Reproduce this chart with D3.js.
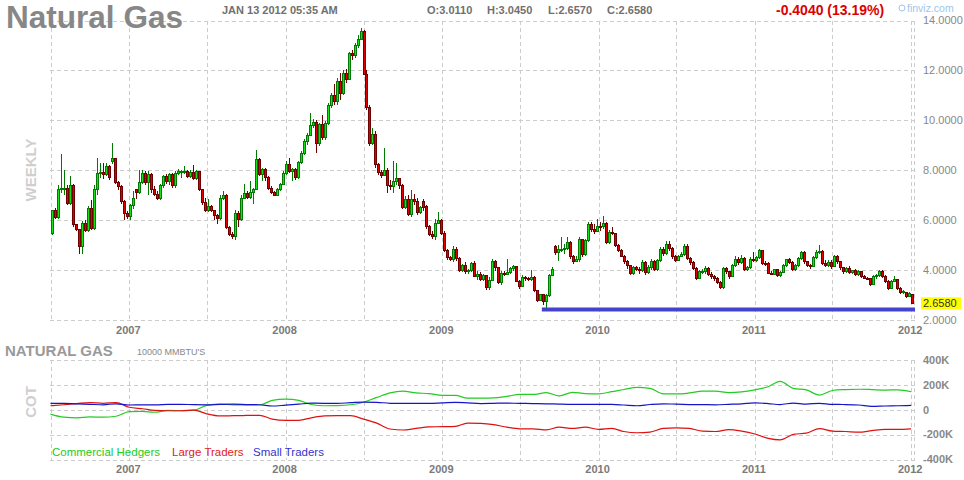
<!DOCTYPE html>
<html>
<head>
<meta charset="utf-8">
<script src="https://cdn.jsdelivr.net/npm/d3@7"></script>
<style>
  body { margin: 0; background: #fff; }
  svg { display: block; font-family: Arial, "Liberation Sans", sans-serif; }
</style>
</head>
<body>
<svg id="chart" width="964" height="480"></svg>
<script>
var WIDTH = 964;
var HEIGHT = 480;
var PLOT_LEFT = 50;
var PLOT_RIGHT = 915;
var PRICE_TOP = 20.5;
var PRICE_BOTTOM = 319.7;
var COT_TOP = 360;
var COT_BOTTOM = 459.5;
var GRID_COLOR = '#cccccc';
var LABEL_COLOR = '#888888';
var UP_FILL = '#16e016';
var UP_EDGE = '#007a00';
var DOWN_FILL = '#e00000';
var DOWN_EDGE = '#700000';

// quote header
var quoteTime = 'JAN 13 2012 05:35 AM';
var quoteOpen = 3.0110;
var quoteHigh = 3.0450;
var quoteLow = 2.6570;
var quoteClose = 2.6580;
var quoteChange = -0.4040;
var quoteChangePct = 13.19;

// weekly bars, finviz draws the first one at the week of Jul 4 2006
var FIRST_BAR = new Date(2006, 6, 4);

var barOpen = [
  // 2006 H2
  5.46,6.36,6.11,7.22,7.25,7.28,6.68,7.38,5.80,5.62,4.92,5.86,5.59,6.45,5.64,7.24,7.85,7.89,7.82,8.16,8.33,8.46,7.51,7.35,6.74,6.27,
  // 2007
  6.14,6.58,7.22,7.12,7.51,7.85,7.49,7.82,7.22,7.04,6.88,7.39,7.73,7.55,7.82,7.38,7.86,7.93,7.93,7.96,7.76,7.89,7.65,7.93,7.22,6.70,
  6.38,6.54,6.38,6.16,6.07,6.85,7.00,5.70,5.43,5.35,6.27,6.00,6.88,7.08,6.90,7.10,7.24,8.43,7.82,8.03,7.69,7.28,7.11,6.99,7.22,7.43,
  // 2008
  7.87,8.23,7.96,8.03,7.69,8.29,8.67,9.16,9.39,9.79,9.89,9.05,9.83,9.29,9.87,10.59,10.99,10.76,11.56,11.07,11.87,11.65,12.69,12.59,12.99,13.23,
  13.56,11.85,10.53,9.05,9.43,8.23,7.89,7.80,7.99,7.40,7.36,7.53,7.65,7.39,6.49,6.83,6.20,6.83,6.76,6.29,6.76,6.55,5.73,5.43,5.33,5.87,
  // 2009
  5.99,5.47,4.76,4.49,4.40,4.83,4.45,3.96,4.16,3.92,3.96,4.25,3.75,3.81,3.61,3.77,3.28,3.57,4.35,4.08,3.48,3.85,3.83,3.90,4.04,4.12,
  3.55,3.35,3.68,3.64,3.61,3.68,3.19,2.79,3.01,2.75,2.97,3.79,4.95,4.68,4.81,4.83,4.85,5.08,4.55,4.35,4.40,5.21,4.61,5.19,5.81,5.61,
  // 2010
  5.55,5.75,5.72,5.85,5.11,5.51,5.44,4.99,4.79,4.55,4.35,4.17,3.85,4.08,4.01,3.97,4.31,3.88,4.08,4.35,4.01,4.37,4.81,4.65,5.01,4.84,
  4.55,4.39,4.52,4.61,4.95,4.45,4.31,4.07,3.67,3.93,3.95,4.04,3.83,3.73,3.64,3.50,3.29,4.04,3.93,3.73,4.17,4.40,4.31,4.44,4.00,4.09,
  // 2011
  4.40,4.36,4.49,4.76,4.27,4.25,3.87,3.83,4.00,3.77,3.91,4.17,4.40,4.30,4.00,4.17,4.44,4.71,4.33,4.17,4.15,4.49,4.71,4.73,4.27,4.17,
  4.31,4.13,4.54,4.33,4.09,3.93,4.07,3.91,3.96,3.80,3.93,3.73,3.67,3.64,3.40,3.73,3.77,3.93,3.73,3.53,3.26,3.53,3.60,3.26,3.10,3.10,
  // 2012
  2.93,3.011
];

var barHigh = [
  6.40,6.50,7.42,8.64,8.00,7.40,7.76,7.45,5.85,5.65,5.95,6.00,6.55,6.80,7.42,8.50,8.30,8.30,8.27,8.20,9.08,8.50,7.55,7.40,6.80,6.35,
  6.65,7.15,7.25,8.00,8.00,7.95,7.95,7.90,7.35,7.15,7.45,7.80,7.85,7.90,7.90,7.95,8.05,8.02,8.15,8.00,8.00,8.20,8.00,7.98,7.25,6.90,
  6.85,6.60,6.40,6.25,7.00,7.15,7.05,5.75,5.50,6.40,6.35,7.00,7.45,7.15,7.55,7.30,8.80,8.50,8.10,8.10,7.75,7.35,7.15,7.30,7.50,7.95,
  8.35,8.50,8.10,8.10,8.35,8.75,9.25,9.50,10.29,10.05,10.00,9.90,10.20,9.95,10.70,11.10,11.47,11.70,11.90,12.00,12.05,12.75,12.80,13.10,13.40,13.69,
  13.60,12.00,10.60,9.70,9.55,8.30,8.00,8.90,8.10,7.60,8.36,8.30,7.70,7.45,6.95,7.00,7.20,7.05,6.90,6.55,6.85,6.60,5.80,5.55,6.05,6.30,
  6.05,5.55,4.85,4.55,4.95,4.90,4.50,4.25,4.30,4.05,4.30,4.35,3.95,3.90,3.85,3.80,3.70,4.45,4.40,4.10,3.95,3.95,4.45,4.10,4.20,4.15,
  3.60,3.80,3.75,3.70,4.00,3.75,3.20,3.05,3.05,3.05,3.85,4.10,5.00,5.00,5.30,5.05,5.33,5.15,4.60,4.55,5.30,5.25,5.25,5.90,5.90,5.85,
  6.05,5.90,6.15,5.90,5.60,5.70,5.45,5.05,4.85,4.60,4.40,4.20,4.15,4.15,4.10,4.40,4.35,4.20,4.45,4.40,4.45,4.90,4.90,5.15,5.15,4.90,
  4.60,4.60,4.70,5.05,5.05,4.50,4.35,4.10,4.00,4.05,4.15,4.10,3.90,3.80,3.70,3.55,4.10,4.10,3.95,4.25,4.55,4.50,4.60,4.50,4.15,4.50,
  4.70,4.55,4.85,4.80,4.35,4.30,3.95,4.05,4.05,3.95,4.25,4.45,4.48,4.35,4.25,4.50,4.75,4.75,4.35,4.25,4.55,4.80,4.98,4.80,4.40,4.40,
  4.40,4.60,4.60,4.35,4.12,4.12,4.15,4.00,4.05,3.98,3.95,3.80,3.72,3.68,3.78,3.85,4.00,3.98,3.78,3.58,3.60,3.75,3.65,3.30,3.20,3.12,
  3.12,3.045
];

var barLow = [
  5.38,6.05,6.05,7.10,7.00,6.60,6.60,5.73,5.55,4.65,4.62,5.50,5.50,5.60,5.60,7.00,7.70,7.65,7.75,7.60,8.25,7.45,7.20,6.65,6.00,6.05,
  6.00,6.45,6.85,7.05,7.45,7.40,7.00,7.10,6.95,6.80,6.80,7.30,7.45,7.40,7.30,7.30,7.80,7.70,7.85,7.70,7.70,7.60,7.60,7.15,6.60,6.30,
  6.30,6.30,6.00,5.85,6.00,6.80,5.65,5.35,5.25,5.20,5.70,5.95,6.85,6.85,6.85,6.65,7.20,7.75,7.55,7.55,7.20,7.05,6.95,6.95,7.15,7.40,
  7.80,7.90,7.55,7.60,7.65,8.25,8.60,9.00,9.35,9.70,8.69,8.95,9.20,9.20,9.80,10.50,10.60,10.60,10.80,11.00,11.50,11.60,12.40,12.50,12.90,13.20,
  11.80,10.40,8.95,9.00,8.10,7.80,7.70,7.75,7.10,7.20,7.10,7.40,7.25,6.45,6.45,6.15,6.10,6.60,6.20,6.25,6.35,5.65,5.35,5.25,5.20,5.85,
  5.40,4.70,4.40,4.35,4.30,4.35,3.90,3.90,3.85,3.85,3.90,3.70,3.60,3.55,3.55,3.20,3.20,3.55,3.95,3.45,3.40,3.75,3.80,3.85,3.95,3.50,
  3.25,3.30,3.55,3.55,3.55,3.10,2.70,2.75,2.60,2.41,2.90,3.75,4.60,4.35,4.70,4.65,4.80,4.45,4.25,4.30,4.30,4.50,4.55,5.10,5.50,5.45,
  5.50,5.55,5.65,5.05,5.05,5.40,4.90,4.70,4.50,4.25,4.05,3.80,3.80,3.95,3.85,3.90,3.80,3.85,4.00,3.95,3.95,4.30,4.55,4.60,4.75,4.45,
  4.30,4.35,4.50,4.55,4.40,4.20,4.00,3.60,3.65,3.85,3.85,3.75,3.65,3.55,3.45,3.22,3.25,3.85,3.65,3.70,4.10,4.20,4.25,3.95,3.95,4.05,
  4.30,4.30,4.45,4.20,4.15,3.82,3.78,3.80,3.72,3.72,3.88,4.10,4.25,3.95,3.95,4.10,4.40,4.25,4.10,4.05,4.10,4.45,4.65,4.20,4.10,4.10,
  4.05,4.10,4.25,4.00,3.85,3.88,3.85,3.85,3.75,3.75,3.68,3.62,3.58,3.35,3.38,3.65,3.72,3.68,3.48,3.20,3.22,3.50,3.20,3.05,3.05,2.88,
  2.90,2.657
];

var barClose = [
  6.36,6.11,7.22,7.25,7.28,6.68,7.38,5.80,5.62,4.92,5.86,5.59,6.45,5.64,7.24,7.85,7.89,7.82,8.16,7.69,8.46,7.51,7.35,6.74,6.27,6.14,
  6.58,6.88,7.12,7.51,7.85,7.49,7.82,7.22,7.04,6.88,7.39,7.73,7.55,7.82,7.38,7.86,7.93,7.93,7.96,7.76,7.89,7.65,7.93,7.22,6.70,6.38,
  6.54,6.38,6.16,6.07,6.85,7.00,5.70,5.43,5.35,6.27,6.00,6.88,7.08,6.90,7.10,7.24,8.43,7.82,8.03,7.69,7.28,7.11,6.99,7.22,7.43,7.87,
  8.23,7.96,8.03,7.69,8.29,8.67,9.16,9.39,9.79,9.89,9.05,9.83,9.29,9.87,10.59,10.99,10.76,11.56,11.07,11.87,11.65,12.69,12.59,12.99,13.23,13.56,
  11.85,10.53,9.05,9.43,8.23,7.89,7.80,7.99,7.40,7.36,7.53,7.65,7.39,6.49,6.83,6.20,6.83,6.76,6.29,6.49,6.49,5.73,5.43,5.33,5.87,5.99,
  5.47,4.76,4.49,4.40,4.83,4.45,3.96,4.16,3.92,3.96,4.25,3.75,3.81,3.61,3.77,3.28,3.57,4.35,4.08,3.48,3.85,3.83,3.90,4.04,4.12,3.55,
  3.35,3.68,3.64,3.61,3.68,3.19,2.79,3.01,2.75,2.97,3.79,4.01,4.68,4.81,4.83,4.85,5.08,4.55,4.35,4.40,5.21,4.61,5.19,5.81,5.61,5.55,
  5.75,5.72,5.85,5.11,5.51,5.44,4.99,4.79,4.55,4.35,4.17,3.85,4.08,4.01,3.97,4.31,3.88,4.08,4.35,4.01,4.37,4.81,4.65,5.01,4.84,4.55,
  4.39,4.52,4.61,4.95,4.45,4.31,4.07,3.67,3.93,3.95,4.04,3.83,3.73,3.64,3.50,3.29,4.04,3.93,3.73,4.17,4.40,4.31,4.44,4.00,4.09,4.40,
  4.36,4.49,4.76,4.27,4.25,3.87,3.83,4.00,3.77,3.91,4.17,4.40,4.30,4.00,4.17,4.44,4.71,4.33,4.17,4.15,4.49,4.71,4.73,4.27,4.17,4.31,
  4.13,4.54,4.33,4.09,3.93,4.07,3.91,3.96,3.80,3.93,3.73,3.67,3.64,3.40,3.73,3.77,3.93,3.73,3.53,3.26,3.53,3.60,3.26,3.10,3.14,2.93,
  3.06,2.658
];

var priceTicks = [2, 4, 6, 8, 10, 12, 14];

// horizontal line from the 2009 low
var supportLevel = 2.409;
var supportFromBar = 164;

// COT net positions, thousands of contracts, monthly from Jul 2006
var COT_START = new Date(2006, 6, 1);
var hedgers = [
  -35,-60,-65,-58,-60,-52,-15,-13,-20,-5,-8,-3,35,45,40,40,38,75,85,75,42,32,33,40,60,99,136,150,135,130,115,115,93,93,
  95,108,123,123,137,112,140,130,128,145,163,180,172,128,127,135,150,150,137,143,160,185,228,172,160,118,155,162,165,162,158,160,145
];
var largeTraders = [
  32,40,50,58,52,57,20,8,-5,-8,-8,-3,-33,-50,-48,-46,-45,-75,-85,-85,-65,-50,-48,-48,-75,-108,-155,-163,-150,-138,-136,-133,-108,-110,
  -120,-140,-153,-153,-162,-140,-150,-140,-158,-150,-175,-185,-180,-150,-145,-150,-172,-175,-160,-172,-195,-230,-242,-198,-188,-152,-172,-175,-180,-168,-158,-158,-153
];
var smallTraders = [
  51,51,47,44,40,48,38,40,40,43,44,41,40,43,45,42,40,30,37,45,53,52,51,57,62,60,52,51,51,51,55,59,55,50,
  52,54,51,50,48,45,43,43,43,43,38,32,42,48,45,42,41,40,44,48,55,50,42,54,45,52,43,42,38,27,30,32,35
];
var cotTicks = [-400, -200, 0, 200, 400];
var cotSeries = ['Commercial Hedgers', 'Large Traders', 'Small Traders'];
var cotColors = ['#22cc22', '#dd1111', '#1515c8'];
var cotLegendColors = ['#22cc22', '#dd2222', '#3333cc'];

var svg = d3.select('#chart');

var barDates = d3.timeTuesday.range(FIRST_BAR, d3.timeWeek.offset(FIRST_BAR, barClose.length));
var cotDates = d3.timeMonth.range(COT_START, d3.timeMonth.offset(COT_START, hedgers.length));

var x = d3.scaleTime()
  .domain([new Date(2006, 6, 1), new Date(2012, 0, 10)])
  .range([50.5, PLOT_RIGHT]);

var yPrice = d3.scaleLinear().domain([2, 14]).range([PRICE_BOTTOM, PRICE_TOP]);
var yCot = d3.scaleLinear().domain([-400, 400]).range([COT_BOTTOM, COT_TOP]);

var gridDates = d3.timeMonth.every(6).range(x.domain()[0], x.domain()[1]);
var yearDates = gridDates.filter(d => d.getMonth() === 0);

function crisp(v) {
  return Math.round(v) + 0.5;
}

function drawGrid(yScale, ticks) {
  var grid = svg.append('g')
    .attr('stroke', GRID_COLOR)
    .attr('stroke-dasharray', '4,3')
    .attr('shape-rendering', 'crispEdges');

  var top = yScale.range()[1];
  var bottom = yScale.range()[0];

  grid.selectAll('.h')
    .data(ticks)
    .join('line')
    .attr('x1', PLOT_LEFT)
    .attr('x2', PLOT_RIGHT)
    .attr('y1', d => crisp(yScale(d)))
    .attr('y2', d => crisp(yScale(d)));

  grid.selectAll('.v')
    .data(gridDates.map(d => x(d)).concat([PLOT_RIGHT - 1]))
    .join('line')
    .attr('x1', d => crisp(d))
    .attr('x2', d => crisp(d))
    .attr('y1', top)
    .attr('y2', bottom);
}

function drawYearLabels(y) {
  svg.append('g')
    .selectAll('text')
    .data(yearDates)
    .join('text')
    .attr('x', d => x(d) - 1)
    .attr('y', y)
    .attr('text-anchor', 'middle')
    .attr('font-size', 11)
    .attr('font-weight', 'bold')
    .attr('fill', '#7a7a7a')
    .text(d3.timeFormat('%Y'));
}

function drawCandles() {
  var bars = barDates.map((d, i) => ({
    date: d,
    open: barOpen[i],
    high: barHigh[i],
    low: barLow[i],
    close: barClose[i]
  }));
  var up = d => d.close >= d.open;

  var g = svg.append('g').attr('shape-rendering', 'crispEdges');

  g.selectAll('.wick')
    .data(bars)
    .join('line')
    .attr('x1', d => Math.round(x(d.date)) + 0.5)
    .attr('x2', d => Math.round(x(d.date)) + 0.5)
    .attr('y1', d => yPrice(d.high))
    .attr('y2', d => yPrice(d.low))
    .attr('stroke', d => up(d) ? UP_EDGE : DOWN_EDGE);

  g.selectAll('.body')
    .data(bars)
    .join('rect')
    .attr('x', d => Math.round(x(d.date)) - 0.5)
    .attr('width', 2)
    .attr('y', d => yPrice(Math.max(d.open, d.close)))
    .attr('height', d => Math.max(1, Math.abs(yPrice(d.open) - yPrice(d.close))))
    .attr('fill', d => up(d) ? UP_FILL : DOWN_FILL)
    .attr('stroke', d => up(d) ? UP_EDGE : DOWN_EDGE)
    .attr('stroke-width', 1);

  svg.append('line')
    .attr('x1', x(barDates[supportFromBar]) - 1.5)
    .attr('x2', PLOT_RIGHT)
    .attr('y1', yPrice(supportLevel))
    .attr('y2', yPrice(supportLevel))
    .attr('stroke', '#4343cc')
    .attr('stroke-width', 4);
}

function drawPriceAxis() {
  svg.append('g')
    .selectAll('text')
    .data(priceTicks)
    .join('text')
    .attr('x', 923)
    .attr('y', d => yPrice(d))
    .attr('dy', '0.35em')
    .attr('font-size', 11)
    .attr('fill', LABEL_COLOR)
    .text(d3.format('.4f'));

  var lastY = yPrice(barClose[barClose.length - 1]);
  svg.append('rect')
    .attr('x', 921)
    .attr('y', lastY - 6)
    .attr('width', 40)
    .attr('height', 12)
    .attr('fill', '#ffff00');
  svg.append('text')
    .attr('x', 923)
    .attr('y', lastY)
    .attr('dy', '0.35em')
    .attr('font-size', 11)
    .attr('fill', '#333')
    .text(d3.format('.4f')(barClose[barClose.length - 1]));
}

function drawCot() {
  var line = d3.line()
    .curve(d3.curveMonotoneX)
    .x(d => x(d.date))
    .y(d => yCot(d.value));

  [hedgers, largeTraders, smallTraders].forEach((values, k) => {
    svg.append('path')
      .attr('d', line(values.map((v, i) => ({ date: cotDates[i], value: v }))))
      .attr('fill', 'none')
      .attr('stroke', cotColors[k])
      .attr('stroke-width', 1.2);
  });

  svg.append('g')
    .selectAll('text')
    .data(cotTicks)
    .join('text')
    .attr('x', 923)
    .attr('y', d => yCot(d))
    .attr('dy', '0.35em')
    .attr('font-size', 11)
    .attr('font-weight', 'bold')
    .attr('fill', LABEL_COLOR)
    .text(d => d === 0 ? '0' : d + 'K');

  var legendX = [52, 172, 253];
  svg.append('g')
    .selectAll('text')
    .data(cotSeries)
    .join('text')
    .attr('x', (d, i) => legendX[i])
    .attr('y', 456)
    .attr('font-size', 11.5)
    .attr('fill', (d, i) => cotLegendColors[i])
    .text(d => d);
}

function drawHeader() {
  svg.append('text')
    .attr('x', 6)
    .attr('y', 27.5)
    .attr('font-size', 30.5)
    .attr('font-weight', 'bold')
    .attr('fill', '#878787')
    .attr('textLength', 177)
    .attr('lengthAdjust', 'spacingAndGlyphs')
    .text('Natural Gas');

  var fmt = d3.format('.4f');
  var info = [
    [222, quoteTime],
    [427, 'O:' + fmt(quoteOpen)],
    [487, 'H:' + fmt(quoteHigh)],
    [548, 'L:' + fmt(quoteLow)],
    [607, 'C:' + fmt(quoteClose)]
  ];
  svg.append('g')
    .selectAll('text')
    .data(info)
    .join('text')
    .attr('x', d => d[0])
    .attr('y', 14)
    .attr('font-size', 11)
    .attr('font-weight', 'bold')
    .attr('fill', '#707070')
    .text(d => d[1]);

  svg.append('text')
    .attr('x', 776)
    .attr('y', 14.5)
    .attr('font-size', 14)
    .attr('font-weight', 'bold')
    .attr('fill', '#dd0000')
    .text(quoteChange.toFixed(4) + ' (' + quoteChangePct.toFixed(2) + '%)');

  svg.append('circle')
    .attr('cx', 902)
    .attr('cy', 8)
    .attr('r', 3)
    .attr('fill', 'none')
    .attr('stroke', '#9cc6ea')
    .attr('stroke-width', 1);
  svg.append('text')
    .attr('x', 907)
    .attr('y', 11.5)
    .attr('font-size', 10.5)
    .attr('fill', '#9cc6ea')
    .text('finviz.com');

  svg.append('text')
    .attr('transform', 'translate(35.5,170) rotate(-90)')
    .attr('text-anchor', 'middle')
    .attr('font-size', 15)
    .attr('font-weight', 'bold')
    .attr('fill', '#cfcfcf')
    .text('WEEKLY');

  svg.append('text')
    .attr('x', 5)
    .attr('y', 356)
    .attr('font-size', 15)
    .attr('font-weight', 'bold')
    .attr('fill', '#999')
    .text('NATURAL GAS');

  svg.append('text')
    .attr('x', 137)
    .attr('y', 355)
    .attr('font-size', 9)
    .attr('fill', '#888')
    .text("10000 MMBTU'S");

  svg.append('text')
    .attr('transform', 'translate(35.5,402) rotate(-90)')
    .attr('text-anchor', 'middle')
    .attr('font-size', 15)
    .attr('font-weight', 'bold')
    .attr('fill', '#cfcfcf')
    .text('COT');
}

drawGrid(yPrice, priceTicks);
drawGrid(yCot, cotTicks);
drawCandles();
drawPriceAxis();
drawYearLabels(334);
drawCot();
drawYearLabels(473);
drawHeader();
</script>
</body>
</html>
